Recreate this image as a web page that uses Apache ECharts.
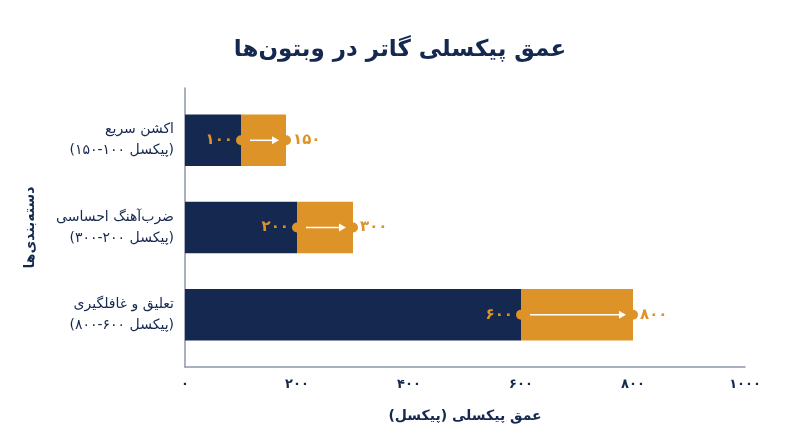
<!DOCTYPE html>
<html>
<head>
<meta charset="utf-8">
<script src="https://cdn.jsdelivr.net/npm/echarts@6/dist/echarts.min.js"></script>
<style>
  html, body { margin: 0; padding: 0; background: #fff; }
  #chart { width: 800px; height: 447px; }
</style>
</head>
<body>
<div id="chart"></div>
<script>
// دسته‌ها و بازه‌ها (از بالا به پایین)
var categories = ['اکشن سریع', 'ضرب‌آهنگ احساسی', 'تعلیق و غافلگیری'];
var minValues = [100, 200, 600];
var maxValues = [150, 300, 800];

var NAVY = '#15284f';
var ORANGE = '#de9328';
var FONT = 'DejaVu Sans';

// تبدیل رقم‌ها به فارسی
function fa(n) {
  return String(n).replace(/\d/g, function (d) { return '۰۱۲۳۴۵۶۷۸۹'[d]; });
}

var seriesData = categories.map(function (c, i) {
  return [i, minValues[i], maxValues[i]];
});

function renderItem(params, api) {
  var idx = api.value(0);
  var p0 = api.coord([0, idx]);
  var pMin = api.coord([api.value(1), idx]);
  var pMax = api.coord([api.value(2), idx]);
  var h = api.size([0, 1])[1] * 0.59;
  var y = pMin[1];
  // کمترین پهنا برای بخش نارنجی
  var endX = Math.max(pMax[0], pMin[0] + 45);
  return {
    type: 'group',
    children: [
      { type: 'rect', shape: { x: p0[0], y: y - h / 2, width: pMin[0] - p0[0], height: h }, style: { fill: NAVY } },
      { type: 'rect', shape: { x: pMin[0], y: y - h / 2, width: endX - pMin[0], height: h }, style: { fill: ORANGE } },
      { type: 'line', shape: { x1: pMin[0] + 9, y1: y, x2: endX - 12, y2: y }, style: { stroke: '#fff', lineWidth: 1.5 } },
      { type: 'polygon', shape: { points: [[endX - 14, y - 4], [endX - 7, y], [endX - 14, y + 4]] }, style: { fill: '#fff' } },
      { type: 'circle', shape: { cx: pMin[0], cy: y, r: 5 }, style: { fill: ORANGE } },
      { type: 'circle', shape: { cx: endX, cy: y, r: 5 }, style: { fill: ORANGE } },
      { type: 'text', x: pMin[0] - 8, y: y, style: { text: fa(api.value(1)), fill: ORANGE, font: 'bold 15px ' + FONT, align: 'right', verticalAlign: 'middle' } },
      { type: 'text', x: endX + 7, y: y, style: { text: fa(api.value(2)), fill: ORANGE, font: 'bold 15px ' + FONT, align: 'left', verticalAlign: 'middle' } }
    ]
  };
}

var myChart = echarts.init(document.getElementById('chart'));
myChart.setOption({
  backgroundColor: '#fff',
  animation: false,
  title: {
    text: 'عمق پیکسلی گاتر در وبتون‌ها',
    left: 'center',
    top: 34,
    textStyle: { color: NAVY, fontSize: 23, fontWeight: 'bold', fontFamily: FONT }
  },
  grid: { left: 185, right: 55, top: 88, bottom: 80 },
  xAxis: {
    type: 'value',
    min: 0,
    max: 1000,
    interval: 200,
    name: 'عمق پیکسلی (پیکسل)\u200F',
    nameLocation: 'middle',
    nameGap: 42,
    nameTextStyle: { color: NAVY, fontSize: 14, fontWeight: 'bold', fontFamily: FONT },
    axisLine: { show: true, onZero: false, lineStyle: { color: '#8d96aa', width: 1.5 } },
    axisTick: { show: false },
    splitLine: { show: false },
    axisLabel: {
      margin: 11,
      color: NAVY,
      fontSize: 13,
      fontWeight: 'bold',
      fontFamily: FONT,
      formatter: function (v) { return fa(v); }
    }
  },
  yAxis: {
    type: 'value',
    inverse: true,
    min: -0.6,
    max: 2.6,
    name: 'دسته‌بندی‌ها',
    nameLocation: 'middle',
    nameGap: 148,
    nameTextStyle: { color: NAVY, fontSize: 14, fontWeight: 'bold', fontFamily: FONT },
    axisLine: { show: true, onZero: false, lineStyle: { color: '#8d96aa', width: 1.5 } },
    axisTick: { show: false },
    splitLine: { show: false },
    axisLabel: {
      customValues: [0, 1, 2],
      margin: 11,
      color: NAVY,
      fontSize: 14,
      lineHeight: 21,
      fontFamily: FONT,
      align: 'right',
      formatter: function (v) {
        var i = Math.round(v);
        return categories[i] + '\n\u202A(' + fa(maxValues[i]) + '-' + fa(minValues[i]) + ' پیکسل)\u202C';
      }
    }
  },
  series: [{
    type: 'custom',
    clip: false,
    renderItem: renderItem,
    encode: { x: [1, 2], y: 0 },
    data: seriesData
  }]
});
</script>
</body>
</html>
